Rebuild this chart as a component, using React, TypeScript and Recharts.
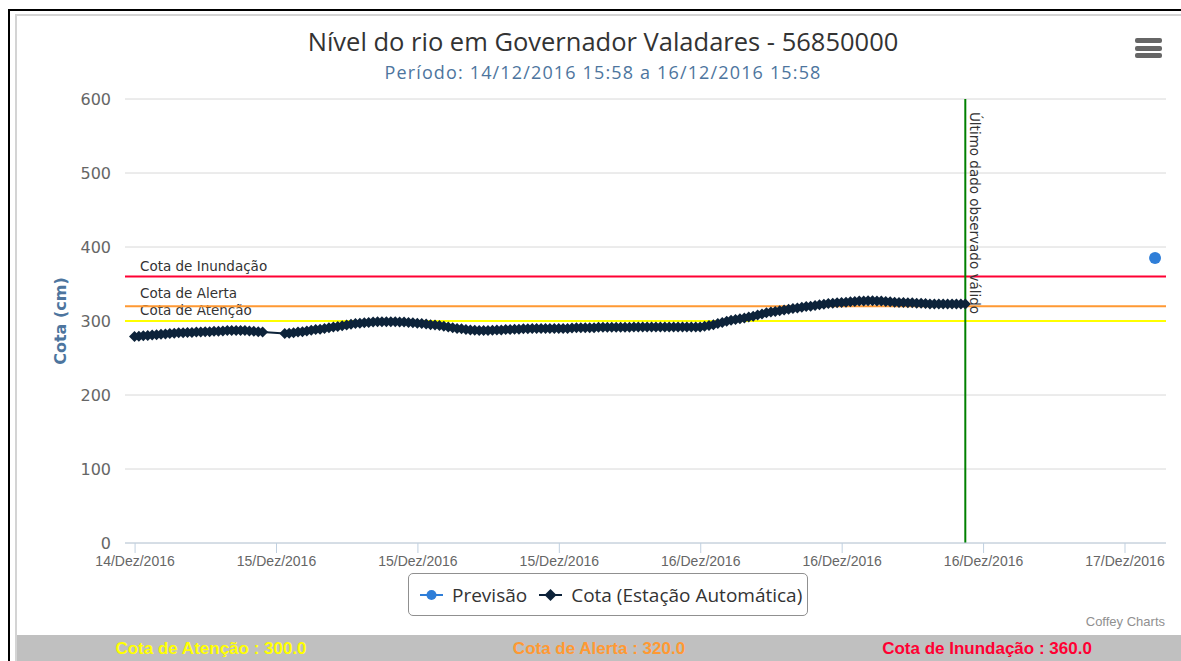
import React from "react";
import { ComposedChart, Line, XAxis, YAxis, CartesianGrid, ReferenceLine } from "recharts";

// time axis in hours since 14/12/2016 00:00, readings every 15 min
const cotaStart = 15 + 58 / 60;
const cotaStepHours = 0.25;
const cotaValues: (number | null)[] = [
  279, 279.5, 280, 280.5, 281, 281.5, 282, 282.5, 283, 283.5,
  284, 284, 284.5, 284.5, 285, 285, 285.5, 285.5, 286, 286,
  286.5, 287, 287, 287, 287, 287, 286.5, 286, 285.5, 285,
  null, null, null, null, 283, 283.5, 284, 285, 285.5, 286.5,
  287.5, 288.5, 289, 290, 291, 292, 292.5, 293.5, 294.5, 295.5,
  296.5, 297, 297.5, 298, 298.5, 299, 299, 299, 299, 299,
  298.5, 298.5, 298, 297.5, 297, 296.5, 296, 295, 294.5, 294,
  293, 292, 291, 290, 289.5, 288.5, 288, 287.5, 287, 287,
  287, 287.5, 288, 288, 288.5, 288.5, 289, 289, 289.5, 289.5,
  290, 290, 290, 290, 290, 290, 290, 290, 290, 290.5,
  291, 291, 291, 291, 291, 291.5, 291.5, 291.5, 291.5, 291.5,
  291.5, 291.5, 291.5, 292, 292, 292, 292, 292, 292, 292,
  292, 292, 292, 292, 292, 292, 292, 292, 292, 293,
  294, 295, 296.5, 298, 299.5, 301, 302, 303, 304, 305.5,
  306.5, 308, 309.5, 311, 312, 313, 314, 315, 316, 317,
  317.5, 318.5, 319.5, 320, 321, 322, 322.5, 323.5, 324, 324.5,
  325, 325.5, 326, 326.5, 327, 327, 327.5, 327.5, 327, 327,
  326.5, 326, 325.5, 325, 325, 324.5, 324.5, 324, 324, 323.5,
  323, 323, 323, 323, 323, 323, 323, 323, 323,
];
const previsaoTimes = [73.7];
const previsaoValues = [385];

const xTicks = [16, 24, 32, 40, 48, 56, 64, 72];
const yTicks = [0, 100, 200, 300, 400, 500, 600];

const cotaNames = ["Cota de Atenção", "Cota de Alerta", "Cota de Inundação"];
const cotaLevels = [300, 320, 360];
const cotaColors = ["#ffff00", "#ff9933", "#ff0033"];

const cotaData = cotaValues.map((v, i) => ({ t: cotaStart + i * cotaStepHours, cota: v }));
const previsaoData = previsaoTimes.map((t, i) => ({ t, previsao: previsaoValues[i] }));
const lastObserved = cotaData.filter((d) => d.cota != null).slice(-1)[0].t;

const NAVY = "#0d233a";
const BLUE = "#2f7ed8";
const CHART_FONT = '"DejaVu Sans", Verdana, sans-serif';

const fmtTick = (h: number) => `${14 + Math.floor(h / 24)}/Dez/2016`;

const Diamond = (props: any) => {
  const { cx, cy, index } = props;
  if (cx == null || cy == null) return <g key={`d-${index}`} />;
  const r = 5.5;
  return (
    <path
      key={`d-${index}`}
      d={`M${cx},${cy - r}L${cx + r},${cy}L${cx},${cy + r}L${cx - r},${cy}Z`}
      fill={NAVY}
    />
  );
};

const HLabel = (props: any) => {
  const { viewBox, text, dy } = props;
  return (
    <text x={viewBox.x + 15} y={viewBox.y + dy} fontSize={13.5} fontFamily={CHART_FONT} fill="#333">
      {text}
    </text>
  );
};

const VLabel = (props: any) => {
  const { viewBox } = props;
  const x = viewBox.x + 5;
  const y = viewBox.y + 13;
  return (
    <text x={x} y={y} transform={`rotate(90 ${x} ${y})`} fontSize={13.5} fontFamily={CHART_FONT} fill="#333">
      Último dado observado válido
    </text>
  );
};

const YTitle = (props: any) => {
  const { viewBox } = props;
  const x = 66;
  const y = viewBox.y + viewBox.height / 2;
  return (
    <text x={x} y={y} transform={`rotate(-90 ${x} ${y})`} textAnchor="middle" fontSize={16} fontWeight="bold" fontFamily={CHART_FONT} fill="#4d759e">
      Cota (cm)
    </text>
  );
};

const labelDy = [-6, -8, -6];

export default function App() {
  return (
    <div style={{ position: "absolute", left: 0, top: 0, width: 1181, height: 661, overflow: "hidden", background: "#fff" }}>
      {/* frame */}
      <div style={{ position: "absolute", left: 8, top: 9, width: 2, height: 652, background: "#000" }} />
      <div style={{ position: "absolute", left: 8, top: 9, width: 1173, height: 2, background: "#000" }} />
      <div style={{ position: "absolute", left: 15, top: 14, width: 2, height: 647, background: "#d4d4d4" }} />
      <div style={{ position: "absolute", left: 15, top: 14, width: 1166, height: 2, background: "#d4d4d4" }} />

      <div style={{ position: "absolute", left: 0, top: 26.5, width: 1206, textAlign: "center", font: '25.5px "Open Sans", sans-serif', lineHeight: "28px", color: "#333" }}>
        Nível do rio em Governador Valadares - 56850000
      </div>
      <div style={{ position: "absolute", left: 0, top: 62, width: 1206, textAlign: "center", font: '18px "Open Sans", sans-serif', lineHeight: "20px", letterSpacing: 1.15, color: "#4d759e" }}>
        Período: 14/12/2016 15:58 a 16/12/2016 15:58
      </div>

      {[38, 46, 53].map((t) => (
        <div key={t} style={{ position: "absolute", left: 1135, top: t, width: 27, height: 4.5, borderRadius: 2, background: "#666" }} />
      ))}

      <div style={{ position: "absolute", left: 0, top: 0 }}>
        <ComposedChart width={1181} height={661} margin={{ top: 99, right: 15, bottom: 88, left: 65 }}>
          <CartesianGrid vertical={false} stroke="#d8d8d8" />
          <XAxis
            type="number"
            dataKey="t"
            domain={[15.43, 74.32]}
            ticks={xTicks}
            tickFormatter={fmtTick}
            allowDataOverflow
            height={30}
            stroke="#c0d0e0"
            tickSize={10}
            tickMargin={3}
            tick={{ fill: "#666", fontSize: 14, fontFamily: '"Liberation Sans", Arial, sans-serif' }}
          />
          <YAxis
            type="number"
            domain={[0, 600]}
            ticks={yTicks}
            width={60}
            axisLine={false}
            tickLine={false}
            tickMargin={8}
            tick={{ fill: "#666", fontSize: 16, fontFamily: CHART_FONT }}
            label={<YTitle />}
          />
          {cotaLevels.map((lvl, i) => (
            <ReferenceLine
              key={lvl}
              y={lvl}
              stroke={cotaColors[i]}
              strokeWidth={2}
              label={<HLabel text={cotaNames[i]} dy={labelDy[i]} />}
            />
          ))}
          <ReferenceLine x={lastObserved} stroke="#008000" strokeWidth={2} label={<VLabel />} />
          <Line
            data={cotaData}
            dataKey="cota"
            stroke={NAVY}
            strokeWidth={2}
            connectNulls
            dot={Diamond}
            activeDot={false}
            isAnimationActive={false}
          />
          <Line
            data={previsaoData}
            dataKey="previsao"
            stroke={BLUE}
            strokeWidth={2}
            dot={{ r: 6, fill: BLUE, stroke: "none" }}
            activeDot={false}
            isAnimationActive={false}
          />
        </ComposedChart>
      </div>

      {/* legend */}
      <div
        style={{
          position: "absolute", left: 408, top: 573, width: 400, height: 43, boxSizing: "border-box",
          border: "1px solid #909090", borderRadius: 5, display: "flex", alignItems: "center",
          paddingLeft: 11, font: '19px "Open Sans", sans-serif', color: "#333",
        }}
      >
        <svg width={23} height={14} style={{ marginRight: 9 }}>
          <line x1={0} y1={7} x2={23} y2={7} stroke={BLUE} strokeWidth={2} />
          <circle cx={11.5} cy={7} r={5} fill={BLUE} />
        </svg>
        <span style={{ marginRight: 12 }}>Previsão</span>
        <svg width={23} height={14} style={{ marginRight: 9 }}>
          <line x1={0} y1={7} x2={23} y2={7} stroke={NAVY} strokeWidth={2} />
          <path d="M11.5,1L17.5,7L11.5,13L5.5,7Z" fill={NAVY} />
        </svg>
        <span>Cota (Estação Automática)</span>
      </div>

      <div style={{ position: "absolute", right: 16, top: 614, font: '13px "Liberation Sans", Arial, sans-serif', color: "#909090" }}>
        Coffey Charts
      </div>

      {/* bottom bar */}
      <div style={{ position: "absolute", left: 17, top: 635, width: 1164, height: 26, background: "#c0c0c0", display: "flex", paddingTop: 2, boxSizing: "border-box" }}>
        {cotaNames.map((n, i) => (
          <div key={n} style={{ flex: 1, textAlign: "center", color: cotaColors[i], font: 'bold 17px "Liberation Sans", Arial, sans-serif', lineHeight: "24px" }}>
            {`${n} : ${cotaLevels[i].toFixed(1)}`}
          </div>
        ))}
      </div>
    </div>
  );
}
